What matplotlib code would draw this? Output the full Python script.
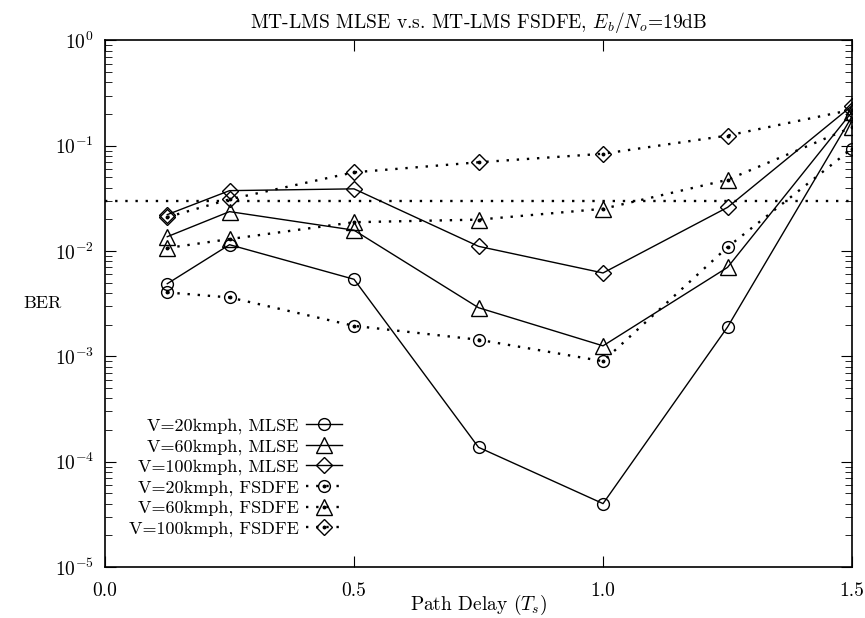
import matplotlib
matplotlib.use("Agg")
import matplotlib.pyplot as plt

plt.rcParams["font.family"] = ["cmr10", "DejaVu Serif"]
plt.rcParams["mathtext.fontset"] = "cm"
plt.rcParams["axes.unicode_minus"] = False
plt.rcParams["axes.formatter.use_mathtext"] = True

# path delay in symbol periods
delay = [0.125, 0.25, 0.5, 0.75, 1.0, 1.25, 1.5]

mlse_20 = [4.9e-3, 1.15e-2, 5.4e-3, 1.37e-4, 4.0e-5, 1.9e-3, 0.19]
mlse_60 = [1.37e-2, 2.37e-2, 1.58e-2, 2.9e-3, 1.26e-3, 7.0e-3, 0.21]
mlse_100 = [2.22e-2, 3.75e-2, 3.9e-2, 1.11e-2, 6.2e-3, 2.6e-2, 0.24]
fsdfe_20 = [4.05e-3, 3.63e-3, 1.95e-3, 1.44e-3, 9.0e-4, 1.09e-2, 0.094]
fsdfe_60 = [1.07e-2, 1.3e-2, 1.88e-2, 1.99e-2, 2.52e-2, 4.75e-2, 0.15]
fsdfe_100 = [2.1e-2, 3.1e-2, 5.6e-2, 6.97e-2, 8.4e-2, 0.125, 0.22]

ref_ber = 3e-2

labels = ["V=20kmph, MLSE", "V=60kmph, MLSE", "V=100kmph, MLSE",
          "V=20kmph, FSDFE", "V=60kmph, FSDFE", "V=100kmph, FSDFE"]

fig = plt.figure(figsize=(8.65, 6.18), dpi=100)
ax = fig.add_axes([0.1214, 0.0825, 0.8636, 0.852])

dotted = (0, (1, 3.3))
ms = {"o": 8.5, "^": 11, "D": 8}

handles = []
series = [(mlse_20, "o", "-"), (mlse_60, "^", "-"), (mlse_100, "D", "-"),
          (fsdfe_20, "o", dotted), (fsdfe_60, "^", dotted), (fsdfe_100, "D", dotted)]
for vals, mk, ls in series:
    lw = 1.0 if ls == "-" else 1.7
    ln, = ax.plot(delay, vals, color="black", linestyle=ls, linewidth=lw,
                  marker=mk, markersize=ms[mk], markerfacecolor="none",
                  markeredgecolor="black", markeredgewidth=1.0)
    if ls == "-":
        handles.append(ln)
    else:
        dot, = ax.plot(delay, vals, linestyle="none", marker="o",
                       markersize=1.8, color="black")
        handles.append((ln, dot))

ax.axhline(ref_ber, color="black", linestyle=dotted, linewidth=1.7)

ax.set_yscale("log")
ax.set_ylim(1e-5, 1)
ax.set_xlim(0, 1.5)
ax.set_xticks([0.0, 0.5, 1.0, 1.5])
ax.set_xticklabels(["0.0", "0.5", "1.0", "1.5"])
ax.tick_params(which="both", direction="in", top=True, right=True,
               labelsize=14, pad=8)
ax.tick_params(axis="x", pad=11)
ax.tick_params(which="major", length=8)
ax.tick_params(which="minor", length=5)
for s in ax.spines.values():
    s.set_linewidth(1.2)

ax.set_title(r"MT-LMS MLSE v.s. MT-LMS FSDFE, $E_b/N_o$=19dB", fontsize=14, pad=9)
ax.set_xlabel(r"Path Delay ($T_s$)", fontsize=14)
ax.xaxis.set_label_coords(0.5, -0.05)
ax.set_ylabel("BER", fontsize=13, rotation=0, va="center")
ax.yaxis.set_label_coords(-0.084, 0.5)

ax.legend(handles, labels, loc="lower left", bbox_to_anchor=(0.015, 0.033),
          frameon=False, markerfirst=False, fontsize=13, labelspacing=0.25,
          handlelength=2.0, handletextpad=0.4, borderpad=0.2)

plt.savefig("out.png", dpi=100)
